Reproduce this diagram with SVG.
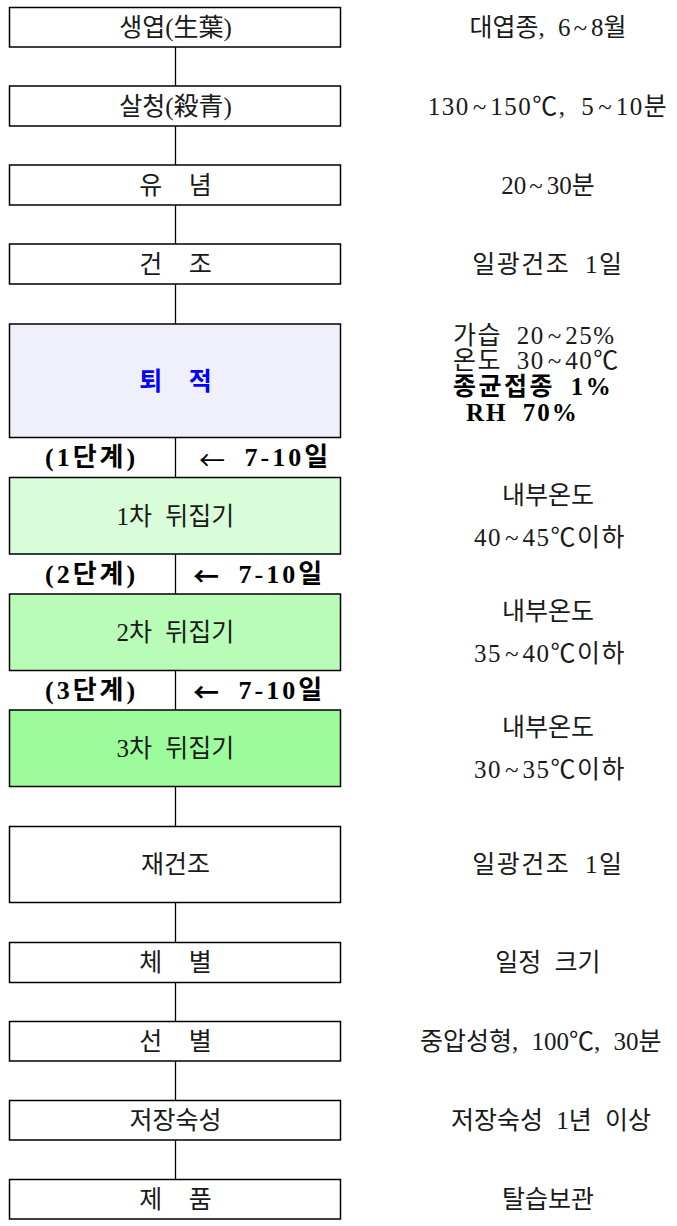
<svg xmlns="http://www.w3.org/2000/svg" width="677" height="1226" viewBox="0 0 677 1226">
<style>
.box{stroke:#000;stroke-width:1.5}
.w0{fill:#fff}
.t{font-family:"Liberation Serif","Noto Sans CJK KR",serif;font-size:25px;fill:#1a1a1a;text-anchor:middle;dominant-baseline:central;white-space:pre;word-spacing:7px}
.s{text-anchor:start}
.b{font-weight:bold;fill:#000}
.st{font-size:26px;letter-spacing:3px}
.tl{letter-spacing:4px}
.ls{letter-spacing:1.5px}
.ar{font-family:"Noto Sans CJK KR",sans-serif}
.conn line{stroke:#000;stroke-width:1.3}
</style>
<rect width="677" height="1226" fill="#fff"/>
<g id="connectors" class="conn">
<line x1="175.5" y1="47" x2="175.5" y2="86"/>
<line x1="175.5" y1="126" x2="175.5" y2="165"/>
<line x1="175.5" y1="205" x2="175.5" y2="244"/>
<line x1="175.5" y1="284" x2="175.5" y2="324"/>
<line x1="175.5" y1="437.5" x2="175.5" y2="477.5"/>
<line x1="175.5" y1="554" x2="175.5" y2="594"/>
<line x1="175.5" y1="670.5" x2="175.5" y2="710"/>
<line x1="175.5" y1="786.5" x2="175.5" y2="826.5"/>
<line x1="175.5" y1="902.5" x2="175.5" y2="942.5"/>
<line x1="175.5" y1="982.5" x2="175.5" y2="1021.5"/>
<line x1="175.5" y1="1061" x2="175.5" y2="1100.5"/>
<line x1="175.5" y1="1140" x2="175.5" y2="1179.5"/>
</g>
<g id="n1"><rect class="box w0" x="9.5" y="7.5" width="331" height="39.5"/><text class="t" x="175.5" y="27">생엽(生葉)</text><text class="t" x="548" y="27">대엽종, 6<tspan dx="3" class="tl">~</tspan>8월</text></g>
<g id="n2"><rect class="box w0" x="9.5" y="86" width="331" height="40"/><text class="t" x="175.5" y="106">살청(殺青)</text><text class="t ls" x="548" y="106">130<tspan dx="3" class="tl">~</tspan>150℃, 5<tspan dx="3" class="tl">~</tspan>10분</text></g>
<g id="n3"><rect class="box w0" x="9.5" y="165" width="331" height="40"/><text class="t" x="175.5" y="185">유  념</text><text class="t" x="548" y="185">20<tspan dx="3" class="tl">~</tspan>30분</text></g>
<g id="n4"><rect class="box w0" x="9.5" y="244" width="331" height="40"/><text class="t" x="175.5" y="264">건  조</text><text class="t ls" x="548" y="264">일광건조 1일</text></g>
<g id="n5"><rect class="box" x="9.5" y="324" width="331" height="113.5" fill="#f0f0fd"/><text class="t b" x="175.5" y="381" style="fill:#0000ff">퇴  적</text>
<text class="t s ls" x="453" y="335">가습 20<tspan dx="3" class="tl">~</tspan>25%</text>
<text class="t s ls" x="453" y="360">온도 30<tspan dx="3" class="tl">~</tspan>40℃</text>
<text class="t b s" x="453" y="386" style="letter-spacing:2.5px">종균접종 1%</text>
<text class="t b s" x="466" y="412" style="letter-spacing:2px">RH 70%</text></g>
<g id="s1"><text class="t b s st" x="45" y="457.5">(1단계)</text><text class="t b s st" x="199" y="457.5"><tspan class="ar" font-weight="normal">←</tspan> 7-10일</text></g>
<g id="n6"><rect class="box" x="9.5" y="477.5" width="331" height="76.5" fill="#d8fdd8"/><text class="t" x="175.5" y="516">1차 뒤집기</text><text class="t" x="548" y="495">내부온도</text><text class="t ls" x="550" y="537">40<tspan dx="3" class="tl">~</tspan>45℃이하</text></g>
<g id="s2"><text class="t b s st" x="45" y="574">(2단계)</text><text class="t b s st" x="193" y="574"><tspan class="ar">←</tspan> 7-10일</text></g>
<g id="n7"><rect class="box" x="9.5" y="594" width="331" height="76.5" fill="#b8fcb8"/><text class="t" x="175.5" y="632">2차 뒤집기</text><text class="t" x="548" y="611">내부온도</text><text class="t ls" x="550" y="653">35<tspan dx="3" class="tl">~</tspan>40℃이하</text></g>
<g id="s3"><text class="t b s st" x="45" y="690">(3단계)</text><text class="t b s st" x="193" y="690"><tspan class="ar">←</tspan> 7-10일</text></g>
<g id="n8"><rect class="box" x="9.5" y="710" width="331" height="76.5" fill="#9cfc9c"/><text class="t" x="175.5" y="748">3차 뒤집기</text><text class="t" x="548" y="727">내부온도</text><text class="t ls" x="550" y="769">30<tspan dx="3" class="tl">~</tspan>35℃이하</text></g>
<g id="n9"><rect class="box w0" x="9.5" y="826.5" width="331" height="76"/><text class="t" x="175.5" y="864.5">재건조</text><text class="t ls" x="548" y="864.5">일광건조 1일</text></g>
<g id="n10"><rect class="box w0" x="9.5" y="942.5" width="331" height="40"/><text class="t" x="175.5" y="962.5">체  별</text><text class="t" x="548" y="962.5">일정 크기</text></g>
<g id="n11"><rect class="box w0" x="9.5" y="1021.5" width="331" height="39.5"/><text class="t" x="175.5" y="1041">선  별</text><text class="t s" x="420" y="1041">중압성형, 100℃, 30분</text></g>
<g id="n12"><rect class="box w0" x="9.5" y="1100.5" width="331" height="39.5"/><text class="t" x="175.5" y="1120">저장숙성</text><text class="t" x="551" y="1120">저장숙성 1년 이상</text></g>
<g id="n13"><rect class="box w0" x="9.5" y="1179.5" width="331" height="39.5"/><text class="t" x="175.5" y="1199">제  품</text><text class="t" x="548" y="1199">탈습보관</text></g>
</svg>
